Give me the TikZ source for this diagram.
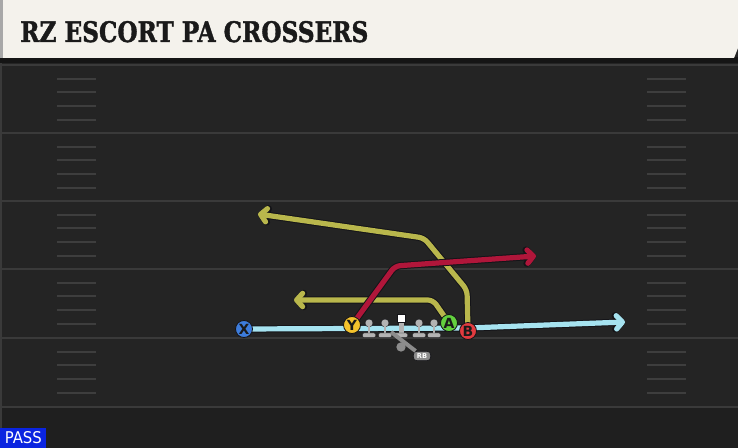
\documentclass[tikz,border=0pt]{standalone}
\usepackage{fontspec}
\usepackage{graphicx}
\setmainfont{DejaVu Serif}
\newfontfamily\titlef{DejaVu Serif}[BoldFeatures={FakeBold=1.5}]
\newfontfamily\sansf{DejaVu Sans}
\usetikzlibrary{arrows.meta}
\definecolor{fieldc}{HTML}{242424}
\definecolor{bottomc}{HTML}{1F1F1F}
\definecolor{linec}{HTML}{3A3A3A}
\definecolor{hashc}{HTML}{3E3E3E}
\definecolor{headerc}{HTML}{F4F2EC}
\definecolor{headstrip}{HTML}{A8A8A8}
\definecolor{darkband}{HTML}{151515}
\definecolor{titlec}{HTML}{1A1A1A}
\definecolor{passblue}{HTML}{0A24E0}
\definecolor{losblue}{HTML}{A6E3F0}
\definecolor{yroute}{HTML}{B9B74C}
\definecolor{rroute}{HTML}{B0163A}
\definecolor{xblue}{HTML}{3D7CDB}
\definecolor{yyellow}{HTML}{F4C22C}
\definecolor{agreen}{HTML}{63D13E}
\definecolor{bred}{HTML}{E23B3F}
\definecolor{olgray}{HTML}{B3B3B3}
\definecolor{rbgray}{HTML}{8C8C8C}
\definecolor{outc}{HTML}{141418}
\pgfdeclarelayer{bg}
\pgfdeclarelayer{routes}
\pgfsetlayers{bg,routes,main}
\newcommand\rte[2]{\draw[rout] #2; \draw[rin,draw=#1] #2;}
\begin{document}
\begin{tikzpicture}[x=0.75pt,y=-0.75pt,
  yardline/.style={draw=linec,line width=1.5pt},
  hash/.style={draw=hashc,line width=1.1pt},
  rout/.style={draw=outc,line width=5.4pt,line join=miter,rounded corners=4pt,-{Straight Barb[length=4.5pt,width=10pt,round=false]}},
  rin/.style={line width=3.9pt,line join=miter,rounded corners=4pt,-{Straight Barb[length=4.5pt,width=10pt,round=false]}},
  rec/.style={circle,draw=outc,line width=0.6pt,minimum size=12.75pt,inner sep=0pt,font=\sansf\bfseries\fontsize{10.5}{10.5}\selectfont,text=titlec},
  rbbox/.style={rectangle,rounded corners=2.5pt,fill=rbgray,draw=outc,line width=0.5pt,minimum width=13pt,minimum height=7pt,inner sep=0pt,font=\sansf\bfseries\fontsize{5}{5}\selectfont,text=white},
  qbdot/.style={circle,fill=rbgray,minimum size=7pt,inner sep=0pt},
  rbline/.style={draw=rbgray,line width=3pt},
  passbox/.style={rectangle,fill=passblue,minimum width=34.5pt,minimum height=15pt,inner sep=0pt,text=white},
  titlenode/.style={inner sep=0pt,text=titlec}]
\useasboundingbox (0,0) rectangle (738,448);
\begin{pgfonlayer}{bg}
  \fill[fieldc] (0,0) rectangle (738,448);
  \fill[bottomc] (0,407) rectangle (738,448);
  \foreach \y in {65,133,201,269,338,407} \draw[yardline] (0,\y) -- (738,\y);
  \foreach \b in {65,133,201,269,338} {
    \foreach \d in {14,27,41,55} {
      \draw[hash] (57,{\b+\d}) -- (96,{\b+\d});
      \draw[hash] (647,{\b+\d}) -- (686,{\b+\d});
    }
  }
  \draw[draw=linec,line width=1.2pt] (1,62) -- (1,448);
  \fill[darkband] (0,57) rectangle (738,63);
  \fill[headerc] (0,0) -- (738,0) -- (738,48) -- (734,58) -- (0,58) -- cycle;
  \fill[headstrip] (0,0) rectangle (3,58);
\end{pgfonlayer}

\node[titlenode,anchor=base west] (title) at (20,42) {\resizebox{261pt}{15.75pt}{\titlef\bfseries RZ ESCORT PA CROSSERS}};
\node[passbox,anchor=south west] (pass) at (0,448) {\resizebox{27.75pt}{9pt}{\sansf PASS}};

% receivers
\node[rec,fill=xblue] (X) at (244,329) {X};
\node[rec,fill=yyellow] (Y) at (352,325) {Y};
\node[rec,fill=agreen] (A) at (449,323) {A};
\node[rec,fill=bred] (B) at (468,331) {B};

% backfield
\node[qbdot] (QB) at (401,347) {};
\node[rbbox] (RB) at (422,356) {RB};

% route points
\coordinate (xb) at (468,328);
\coordinate (xe) at (625,322);
\coordinate (yb) at (395,266);
\coordinate (ye) at (536,256);
\coordinate (bb1) at (467,290);
\coordinate (bb2) at (424,238);
\coordinate (be) at (258,214);
\coordinate (ab) at (433,300);
\coordinate (ae) at (294,300);
\coordinate (fake) at (391,332);

\begin{pgfonlayer}{routes}
  \rte{losblue}{(X.center) -- (xb) -- (xe)}
  \rte{yroute}{(A.center) -- (ab) -- (ae)}
  \rte{yroute}{(B.center) -- (bb1) -- (bb2) -- (be)}
  \rte{rroute}{(Y.center) -- (yb) -- (ye)}
\end{pgfonlayer}

% offensive line
\foreach \lx in {369,385,419,434} {
  \fill[olgray,draw=outc,line width=0.3pt] (\lx,323) circle [radius=3pt];
  \fill[olgray] ({\lx-1.3},325) rectangle ({\lx+1.3},334);
  \fill[olgray,draw=outc,line width=0.3pt,rounded corners=0.8pt] ({\lx-6.5},333) rectangle ({\lx+6.5},337.5);
}
\fill[olgray] (398.5,322) rectangle (403.5,334);
\fill[olgray,draw=outc,line width=0.3pt,rounded corners=0.8pt] (394.5,333) rectangle (407.5,337.5);
\fill[white,draw=outc,line width=0.4pt] (397,314) rectangle (405,322);
\draw[rbline] (RB) -- (fake);
\end{tikzpicture}
\end{document}
